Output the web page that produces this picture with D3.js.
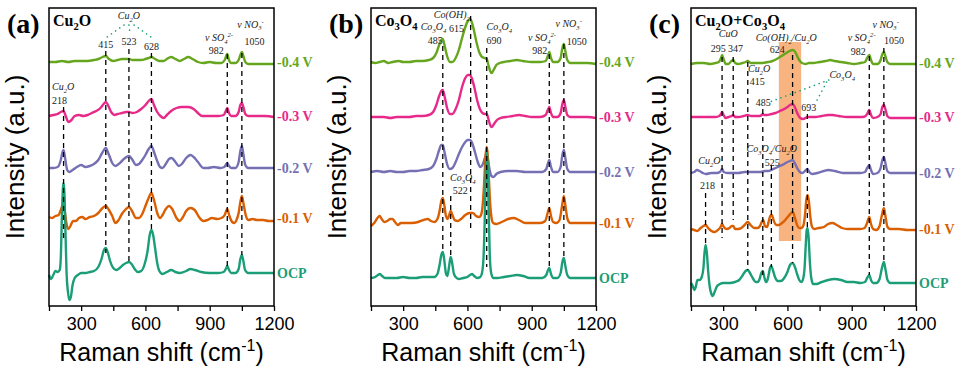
<!DOCTYPE html>
<html><head><meta charset="utf-8">
<script src="https://cdn.jsdelivr.net/npm/d3@7"></script>
<style>body{margin:0;background:#fff}</style>
</head><body><svg id="chart" width="961" height="377"></svg>
<script>
// ---------- data ----------
const panelIds = ["(a)","(b)","(c)"];
const panelNames = ["Cu_2O","Co_3O_4","Cu_2O+Co_3O_4"];
const potentials = ["-0.4 V","-0.3 V","-0.2 V","-0.1 V","OCP"];
const colors = ["#66a61e","#e7298a","#7570b3","#d95f02","#1b9e77"];
const xTicks = [150,300,450,600,750,900,1050,1200];
const xTickLabels = ["","300","","600","","900","","1200"];
// vertical offsets of stacked spectra (a.u.)
const offsetsA = [244,190,138,88,33];
const offsetsB = [244,189,134,83,28];
const offsetsC = [243,189,133,77,23];

// Panel (a) Cu2O : [Raman shift, intensity]
const cu2o_m04 = [[150,0],[180,0],[210,1],[240,0],[270,1],[300,1],[330,1],[360,2],[380,3],[400,5],[415,6],[430,3],[450,1],[470,2],[490,3],[510,3],[523,3],[540,2],[560,2],[580,2],[600,3],[615,4],[628,5],[645,3],[665,1],[685,1],[700,3],[720,5],[740,3],[760,1],[780,3],[800,5],[820,3],[845,0],[870,-1],[900,0],[930,-1],[955,-1],[970,2],[982,8],[990,2],[1000,-1],[1020,-1],[1035,2],[1043,7],[1050,10],[1057,6],[1066,0],[1080,-2],[1120,-2],[1160,-2],[1200,-2]];
const cu2o_m03 = [[150,0],[170,1],[190,2],[205,4],[218,5],[228,0],[240,-6],[255,-4],[270,0],[290,1],[310,0],[330,1],[350,3],[370,5],[390,8],[405,12],[415,14],[425,11],[440,4],[455,1],[470,2],[490,3],[510,4],[523,4],[540,3],[560,4],[580,7],[600,11],[615,15],[628,17],[640,11],[655,4],[670,0],[685,-2],[700,1],[720,5],[745,8],[770,9],[800,9],[825,7],[845,3],[865,0],[900,0],[940,0],[965,1],[975,5],[982,8],[990,3],[1000,0],[1020,0],[1035,4],[1043,11],[1050,13],[1057,9],[1066,2],[1080,0],[1120,0],[1160,0],[1200,-1]];
const cu2o_m02 = [[150,0],[170,0],[190,1],[205,8],[212,15],[218,18],[225,10],[235,-2],[245,-4],[260,-2],[280,1],[300,3],[320,1],[340,2],[360,4],[380,8],[398,15],[415,20],[430,13],[445,5],[460,2],[475,4],[490,7],[505,10],[523,12],[540,8],[555,3],[570,4],[585,8],[600,13],[615,19],[628,22],[640,16],[655,7],[668,1],[680,0],[695,4],[710,9],[722,10],[740,6],[755,2],[770,4],[790,10],[810,13],[825,11],[845,6],[870,0],[890,0],[920,1],[950,0],[968,1],[975,3],[982,5],[990,2],[1000,0],[1020,0],[1035,6],[1043,17],[1050,22],[1057,14],[1066,3],[1080,0],[1120,0],[1160,0],[1200,0]];
const cu2o_m01 = [[150,1],[165,0],[180,2],[195,3],[205,8],[212,12],[218,13],[224,6],[232,-6],[240,-11],[250,-8],[262,-3],[275,-3],[290,0],[305,1],[320,-1],[340,1],[360,2],[380,5],[400,10],[415,12],[430,8],[445,2],[460,-5],[475,-2],[490,4],[505,8],[523,11],[540,6],[555,0],[570,0],[585,4],[600,12],[615,20],[628,25],[640,18],[655,5],[668,0],[680,3],[695,9],[710,12],[725,9],[745,0],[760,-3],[775,1],[790,7],[810,10],[830,8],[850,1],[870,-3],[890,-2],[910,0],[935,-1],[955,0],[970,3],[982,9],[992,2],[1005,-4],[1015,-5],[1025,-2],[1035,5],[1043,16],[1050,22],[1058,14],[1068,3],[1080,-2],[1100,-1],[1120,-2],[1150,-2],[1175,-3],[1200,-3]];
const cu2o_ocp = [[150,-2],[160,-6],[170,-2],[180,2],[190,1],[200,3],[205,15],[210,55],[215,85],[218,90],[222,80],[227,40],[232,0],[238,-18],[245,-27],[252,-24],[260,-12],[270,-5],[285,-2],[300,0],[320,0],[340,1],[360,2],[380,6],[395,14],[405,22],[415,25],[425,20],[435,12],[450,5],[465,3],[480,5],[495,8],[510,10],[523,11],[535,9],[550,4],[565,1],[580,2],[595,8],[610,22],[620,38],[628,43],[636,38],[645,25],[655,10],[665,2],[680,-1],[700,1],[720,3],[740,1],[760,0],[790,2],[810,4],[830,3],[860,1],[900,0],[940,0],[965,1],[975,4],[982,7],[990,3],[1000,0],[1020,0],[1035,4],[1043,14],[1050,18],[1057,12],[1065,3],[1080,0],[1120,0],[1160,0],[1200,0]];

// Panel (b) Co3O4
const co3o4_m04 = [[150,0],[170,-1],[190,0],[210,1],[230,-1],[250,0],[280,1],[300,0],[330,0],[360,1],[390,1],[420,2],[440,4],[455,9],[468,17],[478,22],[485,23],[493,17],[505,6],[518,0],[530,0],[545,4],[560,12],[575,24],[590,35],[602,41],[612,43],[620,40],[630,32],[642,20],[655,10],[668,5],[680,4],[690,3],[698,-3],[706,-9],[713,-11],[722,-8],[735,-3],[750,-1],[770,0],[800,1],[830,2],[860,1],[900,0],[940,0],[965,1],[975,6],[982,10],[990,4],[1000,0],[1020,0],[1035,4],[1043,14],[1050,18],[1057,11],[1066,2],[1080,-1],[1120,-1],[1160,-1],[1200,-2]];
const co3o4_m03 = [[150,0],[180,0],[210,0],[240,-1],[270,0],[300,0],[330,0],[360,1],[390,1],[420,2],[440,5],[455,12],[468,21],[478,26],[485,27],[493,21],[505,9],[518,3],[530,3],[545,8],[560,17],[575,30],[590,39],[602,42],[612,42],[620,39],[632,30],[645,17],[658,8],[670,4],[682,3],[690,3],[698,-2],[706,-8],[714,-10],[724,-7],[738,-3],[755,-1],[780,0],[810,1],[840,2],[870,1],[900,0],[940,0],[965,2],[975,7],[982,10],[990,4],[1000,0],[1020,0],[1035,4],[1043,13],[1050,17],[1057,10],[1066,2],[1080,0],[1120,0],[1160,0],[1200,-1]];
const co3o4_m02 = [[150,0],[180,1],[210,0],[240,1],[270,0],[300,0],[330,1],[360,1],[390,2],[420,3],[440,6],[455,13],[468,22],[478,27],[485,27],[493,20],[505,8],[518,3],[530,4],[545,10],[560,18],[575,25],[590,30],[602,32],[612,32],[622,29],[635,20],[648,10],[660,5],[670,7],[680,13],[688,18],[694,15],[702,4],[712,-4],[722,-5],[735,-2],[755,0],[790,1],[830,1],[870,0],[910,0],[950,0],[968,3],[975,8],[982,12],[990,5],[1000,0],[1020,0],[1035,5],[1043,17],[1050,22],[1057,14],[1066,3],[1080,0],[1120,0],[1160,0],[1200,0]];
const co3o4_m01 = [[150,-3],[165,0],[180,5],[190,7],[200,4],[212,1],[225,2],[240,4],[250,4],[262,1],[275,-2],[290,0],[310,0],[340,0],[370,1],[395,3],[415,4],[430,2],[445,1],[460,4],[470,12],[478,22],[485,25],[492,18],[500,7],[508,4],[515,8],[522,12],[530,8],[540,3],[555,2],[570,4],[590,8],[610,10],[625,10],[640,7],[655,6],[665,9],[672,20],[678,40],[684,65],[689,76],[694,70],[700,45],[706,20],[712,6],[720,0],[735,-1],[760,1],[790,4],[815,5],[840,3],[870,0],[900,0],[940,0],[963,2],[972,8],[982,15],[990,7],[1000,1],[1015,0],[1030,3],[1040,15],[1050,27],[1058,16],[1067,4],[1080,0],[1120,0],[1160,0],[1200,0]];
const co3o4_ocp = [[150,0],[170,1],[182,3],[192,4],[202,2],[215,0],[240,0],[270,0],[300,1],[330,0],[360,0],[390,1],[420,1],[445,1],[460,4],[470,13],[478,23],[485,26],[492,18],[500,4],[506,2],[512,8],[518,17],[522,21],[528,16],[536,5],[545,1],[560,-1],[580,0],[600,1],[612,3],[622,4],[632,2],[645,0],[660,1],[668,5],[675,20],[681,60],[686,110],[690,128],[694,115],[699,70],[704,25],[710,6],[720,0],[740,0],[770,1],[800,2],[830,3],[860,2],[890,0],[920,0],[950,0],[968,3],[976,8],[982,10],[990,4],[1000,0],[1020,0],[1035,5],[1043,16],[1050,20],[1057,12],[1066,3],[1080,0],[1120,0],[1160,0],[1200,0]];

// Panel (c) Cu2O+Co3O4
const mix_m04 = [[150,-1],[180,0],[210,0],[240,-1],[265,0],[280,1],[290,5],[295,8],[302,4],[312,-1],[325,-1],[338,2],[347,3],[356,0],[370,-1],[390,0],[405,1],[415,2],[428,0],[450,0],[480,0],[510,1],[530,2],[550,4],[565,6],[580,8],[595,10],[610,12],[624,13],[633,12],[643,8],[655,3],[668,0],[685,-1],[700,0],[720,0],[750,1],[780,2],[800,3],[820,2],[850,1],[880,0],[910,-1],[940,0],[962,1],[972,5],[982,8],[990,3],[1000,-1],[1020,-1],[1035,3],[1043,9],[1050,11],[1057,7],[1066,1],[1080,-1],[1120,-1],[1160,-1],[1200,-1]];
const mix_m03 = [[150,0],[180,0],[210,0],[240,0],[265,0],[282,1],[290,3],[295,5],[302,2],[312,-1],[325,0],[340,1],[347,2],[356,0],[375,0],[395,1],[415,2],[430,1],[450,1],[470,1],[480,2],[485,3],[492,2],[505,2],[525,3],[545,4],[565,6],[585,8],[600,10],[612,12],[624,13],[632,11],[640,7],[650,2],[660,-1],[672,-2],[685,-1],[693,0],[705,0],[730,0],[760,1],[790,2],[810,2],[840,1],[880,0],[920,0],[950,0],[965,1],[974,4],[982,7],[990,2],[1000,-1],[1020,0],[1035,3],[1043,10],[1050,12],[1057,8],[1066,1],[1080,-1],[1120,-1],[1160,-1],[1200,-1]];
const mix_m02 = [[150,0],[165,1],[178,3],[190,2],[205,0],[220,-1],[245,0],[270,0],[285,1],[295,4],[303,1],[320,0],[345,0],[370,0],[400,1],[420,1],[450,1],[475,1],[495,2],[510,2],[525,3],[545,5],[565,7],[585,9],[600,11],[612,12],[624,13],[634,10],[645,5],[658,1],[670,0],[682,2],[693,4],[702,1],[715,-1],[740,0],[770,2],[790,3],[820,2],[860,0],[900,0],[940,0],[962,1],[972,5],[982,8],[990,3],[1000,-1],[1020,0],[1035,5],[1043,13],[1050,16],[1057,10],[1066,2],[1080,0],[1120,0],[1160,0],[1200,0]];
const mix_m01 = [[150,0],[165,-1],[180,-2],[195,1],[208,3],[218,4],[230,1],[245,-2],[260,-3],[275,-1],[288,2],[295,5],[303,2],[315,0],[330,1],[340,3],[347,3],[356,0],[370,0],[385,1],[400,4],[415,7],[428,4],[445,1],[460,1],[472,3],[480,7],[487,9],[495,3],[505,2],[513,8],[520,13],[527,14],[535,9],[548,4],[560,4],[575,6],[590,9],[605,13],[618,16],[625,17],[635,11],[645,4],[655,1],[665,1],[675,4],[682,14],[688,29],[694,34],[700,28],[707,12],[715,2],[725,0],[745,1],[770,2],[790,5],[810,6],[830,4],[855,1],[880,0],[910,0],[940,0],[960,1],[970,5],[982,12],[990,5],[1000,0],[1015,-1],[1030,3],[1040,13],[1050,21],[1058,12],[1067,2],[1080,0],[1120,0],[1160,-1],[1200,-1]];
const mix_ocp = [[150,0],[158,-3],[165,-7],[172,-4],[180,3],[190,3],[200,6],[208,15],[213,30],[218,38],[224,30],[230,12],[237,-3],[245,-11],[252,-13],[260,-9],[272,-3],[285,-1],[300,0],[330,0],[355,1],[375,3],[392,8],[405,12],[415,13],[425,10],[438,5],[452,1],[462,1],[470,4],[478,10],[485,12],[492,6],[500,1],[507,3],[514,10],[520,16],[525,17],[532,13],[542,6],[555,2],[570,2],[585,5],[600,11],[612,18],[624,20],[635,16],[645,9],[655,3],[665,1],[673,4],[680,15],[686,40],[690,53],[694,55],[699,45],[705,20],[712,4],[720,-1],[735,-1],[760,1],[790,3],[820,4],[850,3],[880,1],[910,1],[940,0],[962,1],[972,5],[982,8],[990,3],[1000,0],[1015,0],[1030,4],[1040,14],[1050,21],[1058,13],[1067,3],[1080,0],[1120,0],[1160,0],[1200,0]];

// peak guide lines: [shift, top, bottom] (a.u.)
const dashesA = [[218,199,66],[415,255,53],[523,257,44],[628,253,76],[982,252,39],[1050,253,51]];
const dashesB = [[485,260,53],[522,110,48],[615,290,74],[690,258,39],[982,252,38],[1050,262,48]];
const dashesC = [[218,113,59],[295,249,68],[347,249,86],[415,244,36],[485,197,31],[525,141,39],[624,251,43],[693,192,78],[982,250,31],[1050,258,43]];
// dotted pointers: [x1,y1,x2,y2]
const dotsA = [[500,281,421,269],[523,281,528,273],[547,281,626,269]];
const dotsB = [];
const dotsC = [[793,226,517,204],[783,224,731,203]];
// highlighted band in (c): [x0,x1,y0,y1]
const bandC = [560,664,65,264];
// annotations: [text, shift, intensity(baseline), style, anchor]
const notesA = [["Cu_2O",523,287,"i","middle"],["415",415,258.5,"n","middle"],["523",523,261.5,"n","middle"],["628",628,256,"n","middle"],
  ["ν SO_4^{2-}",878,265,"i","start"],["982",966,252,"n","end"],["ν NO_3^-",1029,278.5,"i","start"],["1050",1062,261,"n","start"],
  ["Cu_2O",164,216,"i","start"],["218",164,202,"n","start"]];
const notesB = [["Co(OH)_2",443,288,"i","start"],["Co_3O_4",382,276,"i","start"],["615",514,274.5,"n","start"],["485",415,262.5,"n","start"],
  ["Co_3O_4",689,276,"i","start"],["690",689,262,"n","start"],["ν SO_4^{2-}",883,265,"i","start"],["982",973,252,"n","end"],
  ["ν NO_3^-",1011,279,"i","start"],["1050",1063,261,"n","start"],["Co_3O_4",519,125,"i","start"],["522",532,112.5,"n","start"]];
const notesC = [["CuO",280,269,"i","start"],["295",242,254.5,"n","start"],["347",323,254.5,"n","start"],["Co(OH)_2/Cu_2O",452,265,"i","start"],
  ["624",517,253,"n","start"],["ν SO_4^{2-}",881,265,"i","start"],["982",966,251,"n","end"],["ν NO_3^-",997,278.5,"i","start"],
  ["1050",1051,262,"n","start"],["Cu_2O",416,234,"i","start"],["415",424,221,"n","start"],["485",452,200,"n","start"],
  ["693",664,195,"n","start"],["Co_3O_4",796,228,"i","start"],["Co_3O_4/Cu_2O",409,154,"i","start"],["525",494,140,"n","start"],
  ["Cu_2O",184,142,"i","start"],["218",192,117,"n","start"]];

const panels = [
  {series:[cu2o_m04,cu2o_m03,cu2o_m02,cu2o_m01,cu2o_ocp], offsets:offsetsA, dashes:dashesA, dots:dotsA, notes:notesA, band:null},
  {series:[co3o4_m04,co3o4_m03,co3o4_m02,co3o4_m01,co3o4_ocp], offsets:offsetsB, dashes:dashesB, dots:dotsB, notes:notesB, band:null},
  {series:[mix_m04,mix_m03,mix_m02,mix_m01,mix_ocp], offsets:offsetsC, dashes:dashesC, dots:dotsC, notes:notesC, band:bandC}
];

// ---------- drawing ----------
const svg = d3.select("#chart");
const LEFTS = [49,371,691], PW = 225, PTOP = 8, PBOT = 306;
const SANS = "'Liberation Sans', Arial, sans-serif";
const SERIF = "'Liberation Serif', 'Times New Roman', serif";
const NOTE_FS = 10;

function rich(sel, str, fs){
  const re = /_\{([^}]*)\}|\^\{([^}]*)\}|_(.)|\^(.)|([^_^]+)/g;
  let m, cur = 0;
  while ((m = re.exec(str))){
    let t, off = 0, small = false;
    if (m[1] !== undefined){ t = m[1]; off = 0.28*fs; small = true; }
    else if (m[2] !== undefined){ t = m[2]; off = -0.38*fs; small = true; }
    else if (m[3] !== undefined){ t = m[3]; off = 0.28*fs; small = true; }
    else if (m[4] !== undefined){ t = m[4]; off = -0.38*fs; small = true; }
    else t = m[5];
    const ts = sel.append("tspan").text(t).attr("dy", off - cur);
    if (small) ts.attr("font-size", (fs*0.66).toFixed(1));
    cur = off;
  }
}

panels.forEach((p, i) => {
  const L = LEFTS[i];
  const x = d3.scaleLinear().domain([150,1200]).range([L, L+PW]);
  const y = d3.scaleLinear().domain([0,298]).range([PBOT, PTOP]);
  const g = svg.append("g");

  if (p.band){
    g.append("rect").attr("x", x(p.band[0])).attr("width", x(p.band[1]) - x(p.band[0]))
      .attr("y", y(p.band[3])).attr("height", y(p.band[2]) - y(p.band[3]))
      .attr("fill", "#f8b480");
  }

  p.series.forEach((s, k) => {
    const off = p.offsets[k];
    const line = d3.line().x(d => x(d[0])).y(d => y(d[1] + off)).curve(d3.curveMonotoneX);
    g.append("path").datum(s).attr("d", line).attr("fill","none")
      .attr("stroke", colors[k]).attr("stroke-width", 2.4).attr("stroke-linejoin","round");
    g.append("text").attr("x", L + PW + 3).attr("y", y(off) + 5)
      .attr("font-family", SERIF).attr("font-weight","bold").attr("font-size", 14)
      .attr("fill", colors[k]).text(potentials[k]);
  });

  p.dashes.forEach(d => {
    g.append("line").attr("x1", x(d[0])).attr("x2", x(d[0])).attr("y1", y(d[1])).attr("y2", y(d[2]))
      .attr("stroke","#000").attr("stroke-width",1.3).attr("stroke-dasharray","5,4");
  });
  p.dots.forEach(d => {
    g.append("line").attr("x1", x(d[0])).attr("y1", y(d[1])).attr("x2", x(d[2])).attr("y2", y(d[3]))
      .attr("stroke","#1b9e77").attr("stroke-width",1.6).attr("stroke-linecap","round").attr("stroke-dasharray","0.1,5");
  });

  p.notes.forEach(n => {
    const t = g.append("text").attr("x", x(n[1])).attr("y", y(n[2]))
      .attr("font-family", SERIF).attr("font-size", NOTE_FS).attr("text-anchor", n[4])
      .attr("font-style", n[3] === "i" ? "italic" : "normal").attr("fill","#222");
    rich(t, n[0], NOTE_FS);
  });

  const nm = g.append("text").attr("x", L + 4).attr("y", PTOP + 18)
    .attr("font-family", SERIF).attr("font-weight","bold").attr("font-size", 16);
  rich(nm, panelNames[i], 16);

  g.append("rect").attr("x", L).attr("y", PTOP).attr("width", PW).attr("height", PBOT - PTOP)
    .attr("fill","none").attr("stroke","#000").attr("stroke-width",1.5);

  const ax = g.append("g").attr("transform", `translate(0,${PBOT})`)
    .call(d3.axisBottom(x).tickValues(xTicks).tickSize(5).tickSizeOuter(0)
      .tickFormat((d, j) => xTickLabels[j]));
  ax.select(".domain").remove();
  ax.selectAll("line").attr("stroke","#000").attr("stroke-width",1.3);
  ax.selectAll("text").attr("font-family", SANS).attr("font-size", 18).attr("fill","#000").attr("dy","0.9em");

  const xl = g.append("text").attr("x", L + PW/2).attr("y", 361).attr("text-anchor","middle")
    .attr("font-family", SANS).attr("font-size", 25);
  xl.append("tspan").text("Raman shift (cm");
  xl.append("tspan").text("-1").attr("font-size", 16).attr("dy", -10);
  xl.append("tspan").text(")").attr("dy", 10);

  g.append("text").attr("transform", `translate(${L - 25},${(PTOP+PBOT)/2}) rotate(-90)`)
    .attr("text-anchor","middle").attr("font-family", SANS).attr("font-size", 26).text("Intensity (a.u.)");

  g.append("text").attr("x", L - 42).attr("y", PTOP + 25).attr("font-family", SERIF)
    .attr("font-weight","bold").attr("font-size", 28).text(panelIds[i]);
});
</script></body></html>
